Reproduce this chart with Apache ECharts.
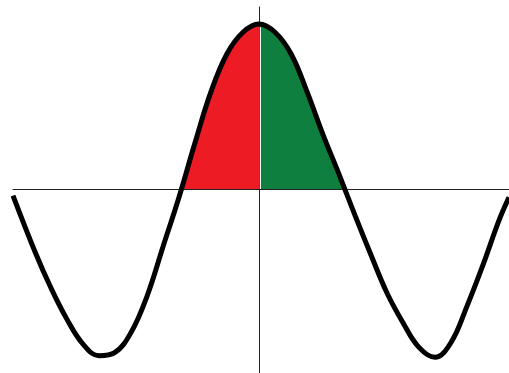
<!DOCTYPE html>
<html>
<head>
<meta charset="utf-8">
<script src="https://cdn.jsdelivr.net/npm/echarts@6/dist/echarts.min.js"></script>
<style>
html, body { margin: 0; padding: 0; background: #fff; }
#chart { width: 509px; height: 373px; }
</style>
</head>
<body>
<div id="chart"></div>
<script>
// curve (x: quarter periods from the peak, y: amplitude)
var curveX = [-3.075, -2.8, -2.6, -2.4, -2.2, -2.0, -1.8, -1.6, -1.4, -1.2, -1.0,
	-0.8, -0.6, -0.4, -0.2, 0, 0.2, 0.4, 0.6, 0.8, 1.0,
	1.2, 1.4, 1.6, 1.8, 2.0, 2.2, 2.4, 2.6, 2.8, 3.0, 3.125];
var curveY = [-0.04, -0.38, -0.60, -0.79, -0.94, -1.01, -0.99, -0.87, -0.65, -0.35, -0.05,
	0.28, 0.59, 0.82, 0.95, 1.0, 0.95, 0.82, 0.59, 0.33, 0.09,
	-0.16, -0.40, -0.63, -0.81, -0.96, -1.02, -0.93, -0.71, -0.46, -0.19, -0.05];

// zero crossings either side of the peak
var leftZero = -0.965;
var rightZero = 1.075;

function pairs(from, to){
	var out = [];
	for (var i = 0; i < curveX.length; i++) {
		if (curveX[i] >= from && curveX[i] <= to) {
			out.push([curveX[i], curveY[i]]);
		}
	}
	return out;
}

var redData = [[leftZero, 0]].concat(pairs(leftZero + 0.01, 0));
var greenData = pairs(0, rightZero - 0.01).concat([[rightZero, 0]]);

var chart = echarts.init(document.getElementById('chart'));

var option = {
	animation: false,
	backgroundColor: '#fff',
	grid: { left: 13, right: 0, top: 7, bottom: 0 },
	xAxis: {
		type: 'value',
		min: -3.075, max: 3.125,
		axisLine: { onZero: true, lineStyle: { color: '#222', width: 1 } },
		axisTick: { show: false },
		axisLabel: { show: false },
		splitLine: { show: false }
	},
	yAxis: {
		type: 'value',
		min: -1.115, max: 1.103,
		axisLine: { show: true, onZero: true, lineStyle: { color: '#222', width: 1 } },
		axisTick: { show: false },
		axisLabel: { show: false },
		splitLine: { show: false }
	},
	series: [
		{
			type: 'line',
			data: redData,
			smooth: 0.4,
			symbol: 'none',
			lineStyle: { width: 0 },
			areaStyle: { color: '#ed1c24', opacity: 1 },
			z: 1
		},
		{
			type: 'line',
			data: greenData,
			smooth: 0.4,
			symbol: 'none',
			lineStyle: { width: 0 },
			areaStyle: { color: '#0e7f3e', opacity: 1 },
			z: 1,
			markLine: {
				silent: true,
				symbol: 'none',
				label: { show: false },
				lineStyle: { color: '#fff', width: 1, type: 'solid' },
				data: [[{ coord: [0.02, 0] }, { coord: [0.02, 0.98] }]]
			}
		},
		{
			type: 'line',
			data: pairs(-10, 10),
			smooth: 0.4,
			symbol: 'none',
			clip: false,
			lineStyle: { color: '#000', width: 5 },
			z: 3
		}
	]
};
chart.setOption(option);
</script>
</body>
</html>
